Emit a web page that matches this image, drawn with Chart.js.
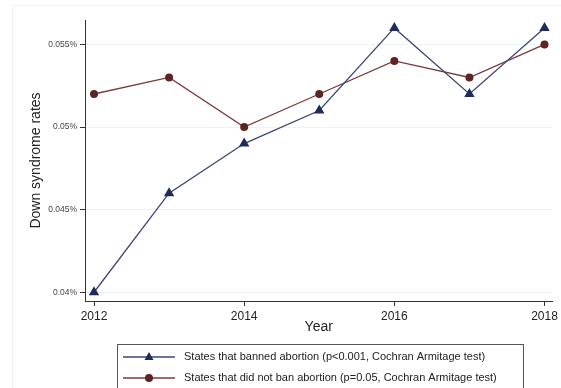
<!DOCTYPE html>
<html>
<head>
<meta charset="utf-8">
<script src="https://cdn.jsdelivr.net/npm/chart.js@4.4.1/dist/chart.umd.min.js"></script>
<style>
  html, body { margin: 0; padding: 0; background: #fff; }
  #wrap { position: relative; width: 561px; height: 388px; }
</style>
</head>
<body>
<div id="wrap"><canvas id="c" width="561" height="388"></canvas></div>
<script>
// Down syndrome rates (%) by year
const years = [2012, 2013, 2014, 2015, 2016, 2017, 2018];
const bannedRates = [0.040, 0.046, 0.049, 0.051, 0.056, 0.052, 0.056];
const notBannedRates = [0.052, 0.053, 0.050, 0.052, 0.054, 0.053, 0.055];
const seriesLabels = [
  'States that banned abortion (p<0.001, Cochran Armitage test)',
  'States that did not ban abortion (p=0.05, Cochran Armitage test)'
];
const xTicks = [2012, 2014, 2016, 2018];
const yTicks = [0.04, 0.045, 0.05, 0.055];

const NAVY = '#1f2b5c';
const NAVY_LINE = '#3a4676';
const MAROON = '#5e2424';
const MAROON_LINE = '#7a3a3a';

const toPoints = vals => vals.map((v, i) => ({ x: years[i], y: v }));

// Outer frame and boxed legend below the axes
const decorations = {
  id: 'decorations',
  beforeDraw(chart) {
    const ctx = chart.ctx;
    ctx.save();
    ctx.strokeStyle = '#eef3f5';
    ctx.lineWidth = 1;
    ctx.strokeRect(12.5, 5.5, 560, 400);
    ctx.restore();
  },
  afterDraw(chart) {
    const ctx = chart.ctx;
    ctx.save();
    ctx.strokeStyle = '#555';
    ctx.lineWidth = 1;
    ctx.strokeRect(117.5, 344.5, 406, 60);
    const rows = [357, 378];
    chart.data.datasets.forEach((ds, i) => {
      const y = rows[i];
      ctx.strokeStyle = ds.borderColor;
      ctx.lineWidth = 1.3;
      ctx.beginPath();
      ctx.moveTo(123, y);
      ctx.lineTo(175, y);
      ctx.stroke();
      ctx.fillStyle = ds.pointBackgroundColor;
      ctx.beginPath();
      if (ds.pointStyle === 'triangle') {
        ctx.moveTo(149, y - 5);
        ctx.lineTo(153.5, y + 3);
        ctx.lineTo(144.5, y + 3);
        ctx.closePath();
      } else {
        ctx.arc(149, y, 4, 0, Math.PI * 2);
      }
      ctx.fill();
      ctx.fillStyle = '#222';
      ctx.font = '11px "Liberation Sans", Arial, sans-serif';
      ctx.textBaseline = 'middle';
      ctx.textAlign = 'left';
      ctx.fillText(ds.label, 184, y);
    });
    ctx.restore();
  }
};

new Chart(document.getElementById('c'), {
  type: 'line',
  data: {
    datasets: [
      {
        label: seriesLabels[0],
        data: toPoints(bannedRates),
        borderColor: NAVY_LINE,
        borderWidth: 1.3,
        pointStyle: 'triangle',
        pointRadius: 6,
        pointBackgroundColor: NAVY,
        pointBorderColor: NAVY,
        pointBorderWidth: 0,
        tension: 0
      },
      {
        label: seriesLabels[1],
        data: toPoints(notBannedRates),
        borderColor: MAROON_LINE,
        borderWidth: 1.3,
        pointStyle: 'circle',
        pointRadius: 4,
        pointBackgroundColor: MAROON,
        pointBorderColor: MAROON,
        pointBorderWidth: 0,
        tension: 0
      }
    ]
  },
  options: {
    responsive: false,
    animation: false,
    layout: { padding: { top: 20, right: 8, left: 0, bottom: 0 } },
    plugins: {
      legend: { display: false },
      tooltip: { enabled: false }
    },
    scales: {
      x: {
        type: 'linear',
        min: 2011.88,
        max: 2018.106,
        afterFit(s) { s.height = 87; },
        afterBuildTicks(s) { s.ticks = xTicks.map(v => ({ value: v })); },
        grid: {
          drawOnChartArea: false,
          drawTicks: true,
          tickLength: 5,
          tickColor: '#333'
        },
        border: { color: '#333', width: 1 },
        ticks: {
          color: '#222',
          padding: 3,
          maxRotation: 0,
          font: { family: '"Liberation Sans", Arial, sans-serif', size: 12 },
          callback: v => String(v)
        },
        title: {
          display: true,
          text: 'Year',
          color: '#222',
          font: { family: '"Liberation Sans", Arial, sans-serif', size: 14 },
          padding: { top: 0, bottom: 52 }
        }
      },
      y: {
        type: 'linear',
        min: 0.03947,
        max: 0.05648,
        afterFit(s) { s.width = 85; },
        afterBuildTicks(s) { s.ticks = yTicks.map(v => ({ value: v })); },
        grid: {
          color: '#edf3f5',
          lineWidth: 1,
          drawTicks: true,
          tickLength: 5,
          tickColor: '#333'
        },
        border: { color: '#333', width: 1 },
        ticks: {
          color: '#444',
          padding: 3,
          font: { family: '"Liberation Sans", Arial, sans-serif', size: 8.5 },
          callback: v => (+v.toFixed(4)) + '%'
        },
        title: {
          display: true,
          text: 'Down syndrome rates',
          color: '#222',
          font: { family: '"Liberation Sans", Arial, sans-serif', size: 14 },
          padding: { top: 28, bottom: 0 }
        }
      }
    }
  },
  plugins: [decorations]
});
</script>
</body>
</html>
